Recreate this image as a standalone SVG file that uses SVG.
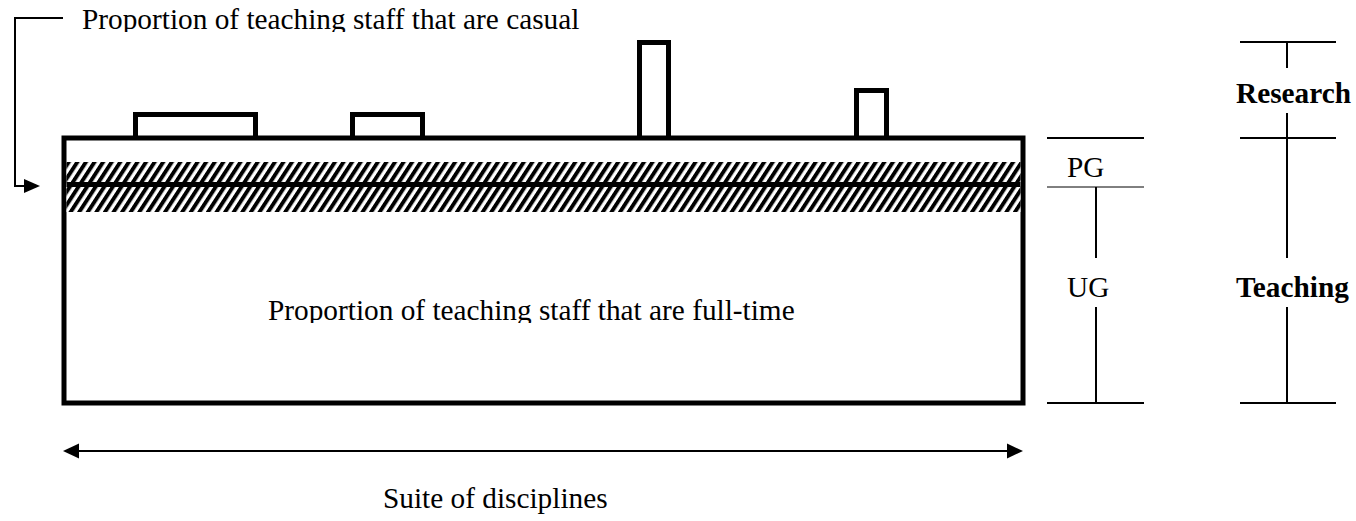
<svg xmlns="http://www.w3.org/2000/svg" width="1356" height="521" viewBox="0 0 1356 521">
<style>
text{font-family:"Liberation Serif","Times New Roman",serif;font-size:29.3px;fill:#000}
.b{font-weight:bold}
.thick{fill:none;stroke:#000;stroke-width:5}
.thin{fill:none;stroke:#000;stroke-width:2}
.hair{fill:none;stroke:#000;stroke-width:1}
.head{fill:#000;stroke:none}
</style>
<defs>
<pattern id="hatch" patternUnits="userSpaceOnUse" width="7.2" height="7.2" patternTransform="rotate(33)">
<rect x="0" y="0" width="7.2" height="7.2" fill="#fff"/>
<rect x="0" y="0" width="3.9" height="7.2" fill="#000"/>
</pattern>
<clipPath id="clipTop"><rect x="0" y="0" width="1356" height="32"/></clipPath>
<clipPath id="clipMid"><rect x="0" y="280" width="1356" height="43"/></clipPath>
</defs>
<rect width="1356" height="521" fill="#fff"/>

<g id="main-box">
<rect x="64" y="138" width="959" height="265" fill="#fff" stroke="#000" stroke-width="5"/>
</g>
<g id="casual-band">
<rect x="66.5" y="162" width="954" height="50" fill="url(#hatch)"/>
<rect x="66.5" y="182" width="954" height="5" fill="#000"/>
</g>
<g id="research-bumps">
<path class="thick" d="M135.5,138 V114.5 H255.5 V138"/>
<path class="thick" d="M352.5,138 V114.5 H422.5 V138"/>
<path class="thick" d="M639.5,138 V42.5 H668.5 V138"/>
<path class="thick" d="M856.5,138 V90.5 H886.5 V138"/>
</g>
<g id="label-casual">
<text x="82" y="29" clip-path="url(#clipTop)">Proportion of teaching staff that are casual</text>
</g>
<g id="label-fulltime">
<text x="268" y="320" clip-path="url(#clipMid)">Proportion of teaching staff that are full-time</text>
</g>
<g id="label-suite">
<text x="383" y="508">Suite of disciplines</text>
</g>
<g id="label-pg"><text x="1067" y="177">PG</text></g>
<g id="label-ug"><text x="1067" y="297">UG</text></g>
<g id="label-research"><text class="b" x="1236" y="103">Research</text></g>
<g id="label-teaching"><text class="b" x="1236" y="297">Teaching</text></g>

<g id="connectors">
<path class="thin" d="M63,18 H15 V186 H25"/>
<path class="head" d="M24,179 L40,186 L24,193 Z"/>
<line class="thin" x1="78" y1="451" x2="1008" y2="451" stroke-width="2.5"/>
<path class="head" d="M79,443.5 L63,451 L79,458.5 Z"/>
<path class="head" d="M1007,443.5 L1023,451 L1007,458.5 Z"/>
<line class="thin" x1="1047" y1="138" x2="1144" y2="138"/>
<line class="hair" x1="1047" y1="187" x2="1144" y2="187"/>
<line class="thin" x1="1096" y1="187" x2="1096" y2="258"/>
<line class="thin" x1="1096" y1="307" x2="1096" y2="403"/>
<line class="thin" x1="1047" y1="403" x2="1144" y2="403"/>
<line class="thin" x1="1240" y1="42" x2="1336" y2="42"/>
<line class="thin" x1="1287" y1="42" x2="1287" y2="68"/>
<line class="thin" x1="1287" y1="113" x2="1287" y2="258"/>
<line class="thin" x1="1240" y1="138" x2="1336" y2="138"/>
<line class="thin" x1="1287" y1="307" x2="1287" y2="403"/>
<line class="thin" x1="1240" y1="403" x2="1336" y2="403"/>
</g>
</svg>
